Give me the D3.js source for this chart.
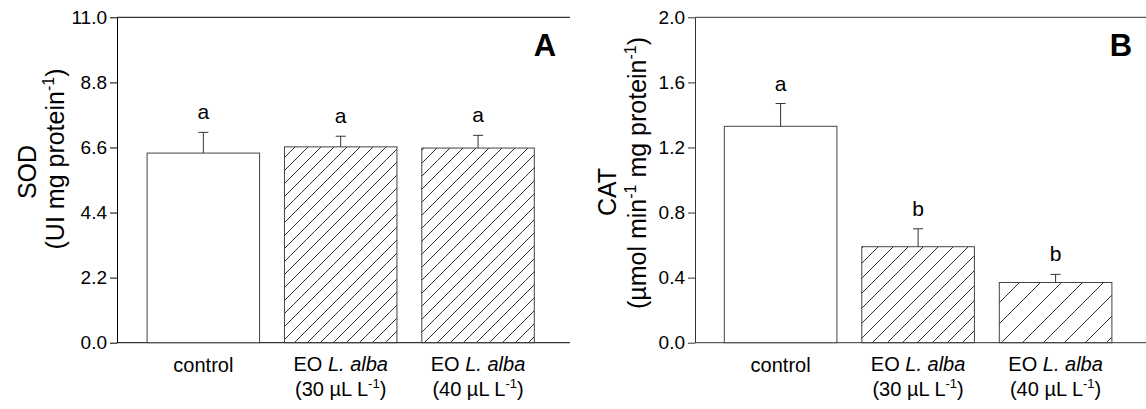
<!DOCTYPE html>
<html>
<head>
<meta charset="utf-8">
<script src="https://cdn.jsdelivr.net/npm/d3@7"></script>
<style>
  body { margin: 0; background: #fff; }
  svg { display: block; font-family: "Liberation Sans", Arial, sans-serif; }
</style>
</head>
<body>
<svg id="chart" width="1146" height="409"></svg>
<script>
// Treatments along the x axis
const categories = ["control", "EO30", "EO40"];
const doseLabels = [null, "30", "40"];

// Panel A: superoxide dismutase activity
const sodMeans = [6.41, 6.62, 6.58];
const sodErrors = [0.70, 0.36, 0.43];
const sodLetters = ["a", "a", "a"];
const sodTicks = [0, 2.2, 4.4, 6.6, 8.8, 11.0];

// Panel B: catalase activity
const catMeans = [1.33, 0.59, 0.37];
const catErrors = [0.14, 0.11, 0.05];
const catLetters = ["a", "b", "b"];
const catTicks = [0, 0.4, 0.8, 1.2, 1.6, 2.0];

const svg = d3.select("#chart");
const defs = svg.append("defs");

// Diagonal hatch fills ("/" lines), spacing in px
function hatch(id, s) {
  defs.append("pattern")
    .attr("id", id)
    .attr("patternUnits", "userSpaceOnUse")
    .attr("width", s).attr("height", s)
    .append("path")
    .attr("d", `M0,${s} L${s},0 M${-s / 2},${s / 2} L${s / 2},${-s / 2} M${s / 2},${s * 1.5} L${s * 1.5},${s / 2}`)
    .attr("stroke", "#333").attr("stroke-width", 1).attr("fill", "none");
  return `url(#${id})`;
}

const yTop = 17.3, yBottom = 342.7;

// Append text parts to a <text>, raising "-1" exponents
function richText(sel, parts, supSize, shift) {
  let pending = 0;
  parts.forEach(part => {
    const ts = sel.append("tspan").text(part.text);
    if (part.italic) ts.attr("font-style", "italic");
    if (part.sup) {
      ts.attr("font-size", supSize).attr("dy", -shift);
      pending = shift;
    } else if (pending) {
      ts.attr("dy", pending);
      pending = 0;
    }
  });
}

function drawPanel(cfg) {
  const g = svg.append("g");
  const yMax = cfg.ticks[cfg.ticks.length - 1];
  const y = d3.scaleLinear().domain([0, yMax]).range([yBottom, yTop]);
  const x = d3.scaleBand().domain(categories).range([cfg.barLeft, cfg.barRight]).paddingInner(0.181);

  // left axis
  const ax = g.append("g")
    .attr("transform", `translate(${cfg.axisX},0)`)
    .call(d3.axisLeft(y).tickValues(cfg.ticks).tickFormat(d3.format(".1f")).tickSize(7).tickSizeOuter(0).tickPadding(3));
  ax.selectAll("path,line").attr("stroke", cfg.axisColor).attr("stroke-width", 1);
  ax.selectAll("text").attr("font-size", 19).attr("fill", "#000")
    .attr("font-family", "Liberation Sans, Arial, sans-serif");

  // top and bottom frame lines
  g.append("line").attr("x1", cfg.axisX).attr("x2", cfg.rightX).attr("y1", y(0)).attr("y2", y(0)).attr("stroke", cfg.axisColor);
  g.append("line").attr("x1", cfg.axisX).attr("x2", cfg.rightX)
    .attr("y1", y(yMax)).attr("y2", y(yMax)).attr("stroke", cfg.axisColor);

  // bars
  g.selectAll("rect.bar").data(categories).join("rect")
    .attr("class", "bar")
    .attr("x", d => x(d))
    .attr("width", x.bandwidth())
    .attr("y", (d, i) => y(cfg.means[i]))
    .attr("height", (d, i) => y(0) - y(cfg.means[i]))
    .attr("fill", (d, i) => cfg.fills[i])
    .attr("stroke", "#444").attr("stroke-width", 1);

  // error bars (upper whisker only)
  const eb = g.selectAll("g.err").data(categories).join("g").attr("class", "err");
  eb.append("line")
    .attr("x1", d => x(d) + x.bandwidth() / 2).attr("x2", d => x(d) + x.bandwidth() / 2)
    .attr("y1", (d, i) => y(cfg.means[i]))
    .attr("y2", (d, i) => y(cfg.means[i] + cfg.errors[i]))
    .attr("stroke", "#333");
  eb.append("line")
    .attr("x1", d => x(d) + x.bandwidth() / 2 - 5).attr("x2", d => x(d) + x.bandwidth() / 2 + 5)
    .attr("y1", (d, i) => y(cfg.means[i] + cfg.errors[i]))
    .attr("y2", (d, i) => y(cfg.means[i] + cfg.errors[i]))
    .attr("stroke", "#333");

  // significance letters
  g.selectAll("text.sig").data(categories).join("text")
    .attr("class", "sig")
    .attr("x", d => x(d) + x.bandwidth() / 2)
    .attr("y", (d, i) => y(cfg.means[i] + cfg.errors[i]) - 13)
    .attr("text-anchor", "middle").attr("font-size", 21)
    .text((d, i) => cfg.letters[i]);

  // category labels
  categories.forEach((c, i) => {
    const cx = x(c) + x.bandwidth() / 2;
    if (doseLabels[i] === null) {
      g.append("text").attr("x", cx).attr("y", 372).attr("text-anchor", "middle").attr("font-size", 20).text(c);
    } else {
      const t1 = g.append("text").attr("x", cx).attr("y", 371).attr("text-anchor", "middle").attr("font-size", 20);
      richText(t1, [{ text: "EO " }, { text: "L. alba", italic: true }]);
      const t2 = g.append("text").attr("x", cx).attr("y", 396).attr("text-anchor", "middle").attr("font-size", 20);
      richText(t2, [{ text: `(${doseLabels[i]} µL L` }, { text: "-1", sup: true }, { text: ")" }], 13, 8);
    }
  });

  // panel letter
  g.append("text").attr("x", cfg.letterX).attr("y", 56).attr("text-anchor", "middle")
    .attr("font-size", 31).attr("font-weight", "bold").text(cfg.panel);

  // y-axis title (two lines)
  g.append("text")
    .attr("transform", `translate(${cfg.title1X},${cfg.title1Y}) rotate(-90)`)
    .attr("text-anchor", "middle").attr("font-size", 25).text(cfg.title1);
  const t = g.append("text")
    .attr("transform", `translate(${cfg.title2X},${cfg.title2Y}) rotate(-90)`)
    .attr("text-anchor", "middle").attr("font-size", 25);
  richText(t, cfg.title2, 16, 10);
}

drawPanel({
  panel: "A",
  means: sodMeans, errors: sodErrors, letters: sodLetters, ticks: sodTicks,
  axisX: 117, rightX: 570, barLeft: 147.1, barRight: 534.3,
  axisColor: "#000",
  fills: ["#fff", hatch("hA2", 13), hatch("hA3", 13)],
  letterX: 545,
  title1: "SOD", title1X: 36, title1Y: 172,
  title2: [{ text: "(UI mg protein" }, { text: "-1", sup: true }, { text: ")" }],
  title2X: 64, title2Y: 159
});

drawPanel({
  panel: "B",
  means: catMeans, errors: catErrors, letters: catLetters, ticks: catTicks,
  axisX: 695, rightX: 1146, barLeft: 724.3, barRight: 1111.9,
  axisColor: "#333",
  fills: ["#fff", hatch("hB2", 15), hatch("hB3", 21)],
  letterX: 1121,
  title1: "CAT", title1X: 616, title1Y: 192,
  title2: [{ text: "(µmol min" }, { text: "-1", sup: true }, { text: " mg protein" }, { text: "-1", sup: true }, { text: ")" }],
  title2X: 646, title2Y: 173
});
</script>
</body>
</html>
